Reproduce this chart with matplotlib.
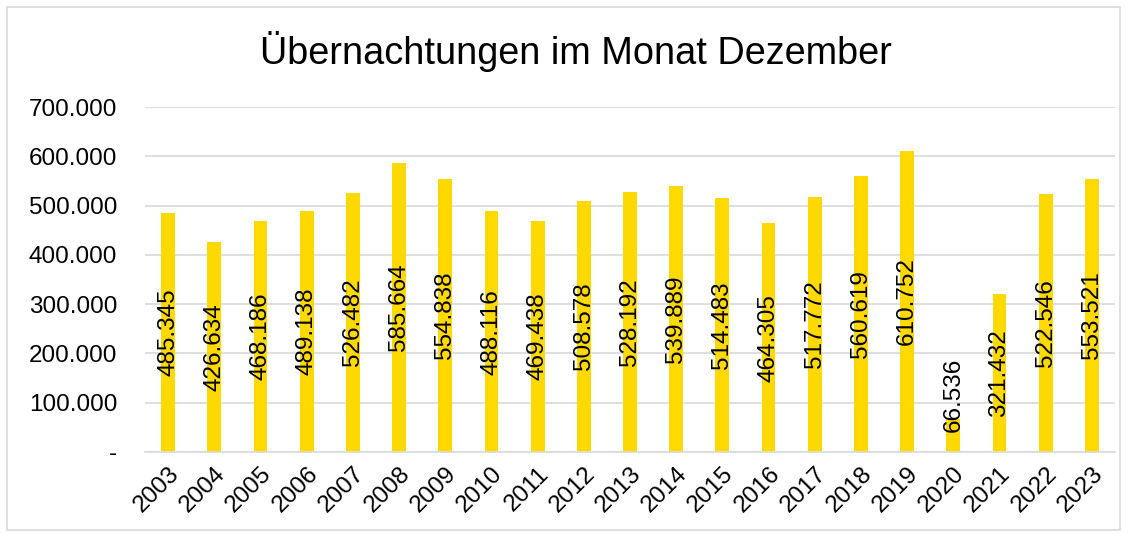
import matplotlib.pyplot as plt
from matplotlib.patches import Rectangle

plt.rcParams['font.family'] = ['Liberation Sans', 'DejaVu Sans']

years = [str(y) for y in range(2003, 2024)]
values = [485345, 426634, 468186, 489138, 526482, 585664, 554838, 488116,
          469438, 508578, 528192, 539889, 514483, 464305, 517772, 560619,
          610752, 66536, 321432, 522546, 553521]
yticks = [0, 100000, 200000, 300000, 400000, 500000, 600000, 700000]
ytick_labels = ['-', '100.000', '200.000', '300.000', '400.000',
                '500.000', '600.000', '700.000']


def fmt(v):
    return f'{v:,}'.replace(',', '.')


fig = plt.figure(figsize=(11.34, 5.34), dpi=100)
ax = fig.add_axes([0.1279, 0.1536, 0.9832 - 0.1279, 0.7996 - 0.1536])

x = range(len(years))
ax.bar(x, values, width=0.3, color='#FFD900', zorder=2)

for i, v in enumerate(values):
    # Excel keeps the label inside the plot area when the bar is too short
    ypos = max(v / 2, 116000)
    ax.text(i, ypos, fmt(v), rotation=90, ha='center', va='center',
            fontsize=17.5, color='black', zorder=3)

ax.set_ylim(0, 700000)
ax.set_xlim(-0.5, len(years) - 0.5)
ax.set_yticks(yticks)
ax.set_yticklabels(ytick_labels, fontsize=17.5)
ax.set_xticks(list(x))
ax.set_xticklabels(years, rotation=45, ha='right', rotation_mode='anchor',
                   fontsize=17.5)
ax.tick_params(axis='y', length=0, pad=20)
ax.tick_params(axis='x', length=0, pad=8)

ax.grid(axis='y', color='#d9d9d9', linewidth=1.2, zorder=0)
for s in ['top', 'right', 'left']:
    ax.spines[s].set_visible(False)
ax.spines['bottom'].set_color('#d9d9d9')
ax.spines['bottom'].set_linewidth(1.2)

fig.text(0.508, 0.903, 'Übernachtungen im Monat Dezember', ha='center',
         va='center', fontsize=27.3)

fig.patches.append(Rectangle((0.006, 0.008), 0.982, 0.978,
                             transform=fig.transFigure, fill=False,
                             edgecolor='#d9d9d9', linewidth=1.2))

fig.savefig('out.png', dpi=100)
